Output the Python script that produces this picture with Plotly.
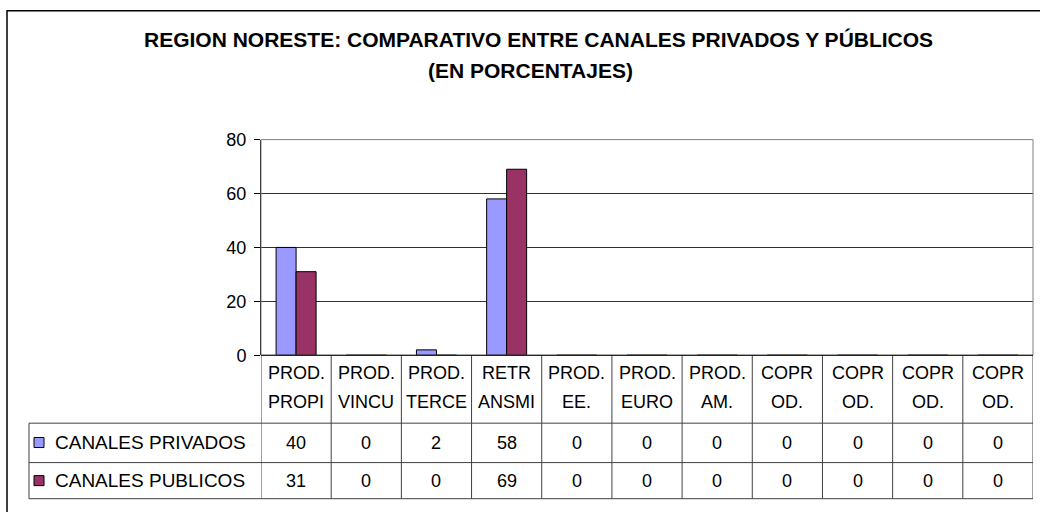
import plotly.graph_objects as go

# data
header_top = ["PROD.", "PROD.", "PROD.", "RETR", "PROD.", "PROD.", "PROD.", "COPR", "COPR", "COPR", "COPR"]
header_bottom = ["PROPI", "VINCU", "TERCE", "ANSMI", "EE.", "EURO", "AM.", "OD.", "OD.", "OD.", "OD."]
series_names = ["CANALES PRIVADOS", "CANALES PUBLICOS"]
privados = [40, 0, 2, 58, 0, 0, 0, 0, 0, 0, 0]
publicos = [31, 0, 0, 69, 0, 0, 0, 0, 0, 0, 0]
colors = ["#9999FF", "#993366"]
title_1 = "REGION NORESTE: COMPARATIVO ENTRE CANALES PRIVADOS Y PÚBLICOS"
title_2 = "(EN PORCENTAJES)"

W, H = 1040, 512
FONT = "Liberation Sans, Arial, sans-serif"
# the page photo came out squeezed a little vertically, so pixel targets are corrected here
SY, OY = 0.958, 9.8


def px(x):
    return x / W


def py(y):
    return 1 - ((y - OY) / SY) / H


x_idx = list(range(len(header_top)))
n = len(x_idx)

fig = go.Figure()
for name, vals, col in zip(series_names, [privados, publicos], colors):
    fig.add_trace(go.Bar(x=x_idx, y=vals, name=name, marker_color=col,
                         marker_line_color="black", marker_line_width=1))

# plot area pixel box
left, right, top, bottom = 261, 1033, 139, 354
# table rows (pixel y)
row_lines = [421.7, 461, 497]
tab_left = 29
grid = "#404040"

shapes = []
# outer frame
shapes.append(dict(type="rect", xref="paper", yref="paper", x0=px(7), x1=px(1100),
                   y0=py(10.5), y1=py(560), line=dict(color="black", width=1.5)))
# plot area border (top/right gray)
shapes.append(dict(type="rect", xref="paper", yref="paper", x0=px(left), x1=px(right),
                   y0=py(top), y1=py(bottom), line=dict(color="#808080", width=1)))
# table vertical lines
for i in range(n + 1):
    shapes.append(dict(type="line", xref="x", yref="paper", x0=i - 0.5, x1=i - 0.5,
                       y0=py(bottom), y1=py(row_lines[-1]), line=dict(color=grid, width=1)))
# table horizontal lines
shapes.append(dict(type="line", xref="paper", yref="paper", x0=px(left), x1=px(right),
                   y0=py(bottom), y1=py(bottom), line=dict(color="black", width=1)))
for yy in row_lines:
    shapes.append(dict(type="line", xref="paper", yref="paper", x0=px(tab_left), x1=px(right),
                       y0=py(yy), y1=py(yy), line=dict(color=grid, width=1)))
shapes.append(dict(type="line", xref="paper", yref="paper", x0=px(tab_left), x1=px(tab_left),
                   y0=py(row_lines[0]), y1=py(row_lines[-1]), line=dict(color=grid, width=1)))

annotations = []
title_font = dict(size=21, color="black", family=FONT)
annotations.append(dict(text="<b>%s</b>" % title_1, xref="paper", yref="paper", x=px(538), y=py(39),
                        xanchor="center", yanchor="middle", showarrow=False, font=title_font))
annotations.append(dict(text="<b>%s</b>" % title_2, xref="paper", yref="paper", x=px(530), y=py(70),
                        xanchor="center", yanchor="middle", showarrow=False, font=title_font))
tfont = dict(size=18, color="black", family=FONT)
for i in x_idx:
    annotations.append(dict(text=header_top[i], xref="x", yref="paper", x=i, y=py(372),
                            xanchor="center", yanchor="middle", showarrow=False, font=tfont))
    annotations.append(dict(text=header_bottom[i], xref="x", yref="paper", x=i, y=py(401),
                            xanchor="center", yanchor="middle", showarrow=False, font=tfont))
row_y = [441, 479]
for r, (name, vals, col) in enumerate(zip(series_names, [privados, publicos], colors)):
    for i in x_idx:
        annotations.append(dict(text=str(vals[i]), xref="x", yref="paper", x=i, y=py(row_y[r]),
                                xanchor="center", yanchor="middle", showarrow=False, font=tfont))
    annotations.append(dict(text=name, xref="paper", yref="paper", x=px(53), y=py(row_y[r]),
                            xanchor="left", yanchor="middle", showarrow=False,
                            font=dict(size=19, color="black", family=FONT)))
    shapes.append(dict(type="rect", xref="paper", yref="paper", x0=px(34), x1=px(44),
                       y0=py(row_y[r] - 5), y1=py(row_y[r] + 5), fillcolor=col,
                       line=dict(color="black", width=1)))

fig.update_layout(
    width=W, height=H,
    margin=dict(l=0, r=0, t=0, b=0),
    paper_bgcolor="white", plot_bgcolor="white",
    showlegend=False,
    barmode="group", bargap=0.43, bargroupgap=0,
    font=dict(family=FONT, color="black"),
    xaxis=dict(domain=[px(left), px(right)], range=[-0.5, n - 0.5], showticklabels=False,
               showgrid=False, zeroline=False, ticks=""),
    yaxis=dict(domain=[py(bottom), py(top)], range=[0, 80], dtick=20, ticks="outside",
               ticklen=6, tickcolor="black", showline=True, linecolor="black",
               gridcolor="#303030", zeroline=False, ticklabelstandoff=4,
               tickfont=dict(size=18, color="black")),
    shapes=shapes,
    annotations=annotations,
)

fig.write_html("out.html", config={"displayModeBar": False},
               post_script="document.body.style.margin='0px';")
